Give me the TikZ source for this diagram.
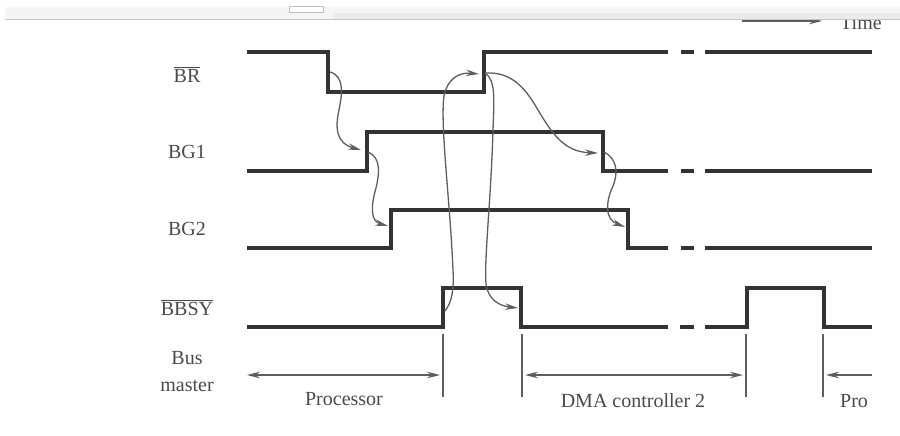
\documentclass[tikz,border=0pt]{standalone}
\usepackage{fontspec}
\setmainfont{Liberation Serif}
\usepackage{tikz}
\usetikzlibrary{arrows.meta}
\definecolor{sigline}{HTML}{333333}
\definecolor{thinline}{HTML}{5E5E5E}
\definecolor{txtgray}{HTML}{4A4A4A}

\begin{document}
\begin{tikzpicture}[x=1pt,y=-1pt,>={Stealth[length=13pt,width=6.5pt]},font=\fontsize{20}{27}\selectfont]
        \tikzstyle{signal} = [line width=3.4pt, draw=sigline]
        \tikzstyle{cause} = [->, line width=1.3pt, draw=thinline]
        \tikzstyle{tickline} = [line width=1.3pt, draw=thinline]
        \tikzstyle{lbl} = [text=txtgray, anchor=base, inner sep=0pt]

        \useasboundingbox (0,0) rectangle (900,436);
        \fill[white] (0,0) rectangle (900,436);

        % Time arrow (partly under the top band)
        \node[lbl, anchor=base west] (time) at (840,30) {Time};
        \coordinate (time-start) at (742,21);
        \coordinate (time-end) at (822,21);
        \draw[cause] (time-start) -- (time-end);
        \fill[gray!8] (5,7) rectangle (900,19);
        \fill[gray!16] (333,13) rectangle (900,19);
        \draw[gray!45, line width=1pt] (5,19.5) -- (900,19.5);
        \draw[gray!50, fill=white, line width=0.8pt] (289,6) rectangle (323,12);

        % Labels
        \node[lbl] (br) at (187,82) {$\overline{\hbox{BR}}$};
        \node[lbl] (bg1) at (187,158) {BG1};
        \node[lbl] (bg2) at (187,235) {BG2};
        \node[lbl] (bbsy) at (187,315) {$\overline{\hbox{BBSY}}$};
        \node[text=txtgray, align=center, inner sep=0pt] (master) at (187,372) {Bus\\master};

        % Signals
        \draw[signal] (247,52) -| (328,92) -| (484,52) -- (668,52);
        \draw[signal] (247,171) -| (367,132) -| (603,171) -- (668,171);
        \draw[signal] (247,248) -| (391,210) -| (628,248) -- (668,248);
        \foreach \y in {52,171,248} {
            \draw[signal] (681,\y) -- (694,\y);
            \draw[signal] (705,\y) -- (872,\y);
        }
        \draw[signal] (247,327) -| (443,288) -| (521,327) -- (668,327);
        \draw[signal] (680,327) -- (694,327);
        \draw[signal] (705,327) -| (747,288) -| (824,327) -- (872,327);

        % Points on the edges
        \coordinate (br-fall) at (330,72);
        \coordinate (br-rise) at (485,73);
        \coordinate (br-rise-in) at (479,74);
        \coordinate (bg1-rise) at (361,150);
        \coordinate (bg1-rise-out) at (368,152);
        \coordinate (bg1-fall) at (598,153);
        \coordinate (bg1-fall-out) at (604,152);
        \coordinate (bg2-rise) at (388,226);
        \coordinate (bg2-fall) at (625,227);
        \coordinate (bbsy-rise) at (445,311);
        \coordinate (bbsy-fall) at (518,308);

        % Edges
        \draw[cause] (br-fall) .. controls (345,76) and (342,95) .. (339,110)
            .. controls (335,128) and (336,143) .. (bg1-rise);
        \draw[cause] (bg1-rise-out) .. controls (382,158) and (379,175) .. (376,188)
            .. controls (371,205) and (370,221) .. (bg2-rise);
        \draw[cause] (bbsy-rise) .. controls (452,302) and (454,290) .. (453,270)
            .. controls (450,200) and (440,125) .. (444,96)
            .. controls (447,80) and (458,72) .. (br-rise-in);
        \draw[cause] (br-rise) .. controls (496,80) and (494,100) .. (493,130)
            .. controls (491,200) and (484,260) .. (486,284)
            .. controls (488,300) and (500,306) .. (bbsy-fall);
        \draw[cause] (br-rise) .. controls (505,72) and (520,80) .. (535,105)
            .. controls (550,130) and (562,152) .. (bg1-fall);
        \draw[cause] (bg1-fall-out) .. controls (616,158) and (619,171) .. (613,186)
            .. controls (606,201) and (604,219) .. (bg2-fall);

        % Bus master spans
        \foreach \x/\n in {443/a,522/b,746/c,823/d} {
            \coordinate (tick-\n-top) at (\x,334);
            \coordinate (tick-\n-bot) at (\x,397);
            \draw[tickline] (tick-\n-top) -- (tick-\n-bot);
        }
        \coordinate (proc-l) at (247,375);
        \coordinate (proc-r) at (440,375);
        \coordinate (dma-l) at (525,375);
        \coordinate (dma-r) at (743,375);
        \coordinate (proc2-l) at (826,375);
        \coordinate (proc2-r) at (872,375);
        \draw[cause, <->] (proc-l) -- (proc-r);
        \draw[cause, <->] (dma-l) -- (dma-r);
        \draw[cause] (proc2-r) -- (proc2-l);

        \node[lbl] (proc) at (344,405) {Processor};
        \node[lbl] (dma) at (633,407) {DMA controller 2};
        \node[lbl, anchor=base west] (proc2) at (840,407) {Pro};
    \end{tikzpicture}
\end{document}
